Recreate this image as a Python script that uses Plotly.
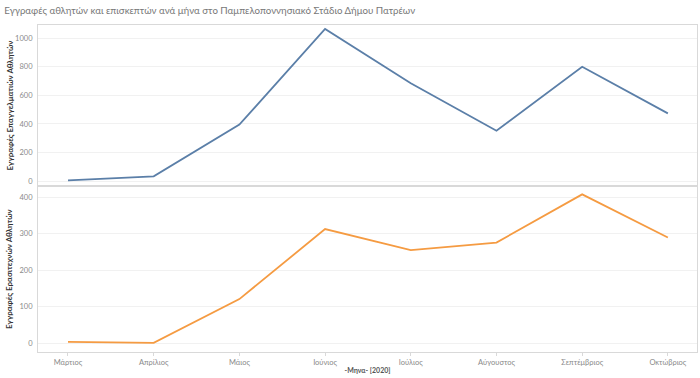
import plotly.graph_objects as go

months = ["Μάρτιος", "Απρίλιος", "Μάιος", "Ιούνιος", "Ιούλιος", "Αύγουστος", "Σεπτέμβριος", "Οκτώβριος"]
professional = [5, 33, 395, 1065, 685, 352, 800, 474]
amateur = [4, 1, 121, 313, 255, 276, 408, 290]

x_idx = list(range(len(months)))

fig = go.Figure()
fig.add_trace(go.Scatter(x=x_idx, y=professional, mode="lines",
                         line=dict(color="#5b7fa8", width=1.8), xaxis="x2", yaxis="y2",
                         hoverinfo="skip", showlegend=False))
fig.add_trace(go.Scatter(x=x_idx, y=amateur, mode="lines",
                         line=dict(color="#f59b42", width=1.8), xaxis="x", yaxis="y",
                         hoverinfo="skip", showlegend=False))

split = (352 - 186) / 327
fam = "Lato, Open Sans, sans-serif"
tickfont = dict(family=fam, size=7.5, color="#8a8a8a")
linec = "#d9d9d9"
gridc = "#f1f1f1"

fig.update_layout(
    width=700, height=378,
    margin=dict(l=38, r=3, t=25, b=26),
    paper_bgcolor="white", plot_bgcolor="white",
    title=dict(text="Εγγραφές αθλητών και επισκεπτών ανά μήνα στο Παμπελοποννησιακό Στάδιο Δήμου Πατρέων",
               x=0.006, xanchor="left", y=0.973, yanchor="middle",
               font=dict(family=fam, size=9.7, color="#777777")),
    xaxis=dict(domain=[0, 1], anchor="y", range=[-0.35, 7.34],
               tickmode="array", tickvals=x_idx, ticktext=months, tickfont=tickfont,
               showgrid=False, zeroline=False, showline=True, mirror=True, linecolor=linec,
               ticks="outside", ticklen=3, tickcolor=linec,
               title=dict(text="<b>-Μηνα- [2020]</b>", standoff=2,
                          font=dict(family=fam, size=7, color="#555555"))),
    xaxis2=dict(domain=[0, 1], anchor="y2", range=[-0.35, 7.34], matches="x",
                showticklabels=False, showgrid=False, zeroline=False,
                showline=True, mirror=True, linecolor=linec),
    yaxis=dict(domain=[0, split], anchor="x", range=[-24, 431],
               tickvals=[0, 100, 200, 300, 400], tickfont=tickfont,
               showgrid=True, gridcolor=gridc, zeroline=False,
               showline=True, mirror=True, linecolor=linec, ticks="", ticklabelstandoff=3),
    yaxis2=dict(domain=[split, 1], anchor="x2", range=[-35, 1093],
                tickvals=[0, 200, 400, 600, 800, 1000], tickfont=tickfont,
                showgrid=True, gridcolor=gridc, zeroline=False,
                showline=True, mirror=True, linecolor=linec, ticks="", ticklabelstandoff=3),
    annotations=[
        dict(text="<b>Εγγραφές Επαγγελματιών Αθλητών</b>", xref="paper", yref="paper",
             x=-0.044, y=(split + 1) / 2, textangle=-90, showarrow=False,
             xanchor="center", yanchor="middle",
             font=dict(family=fam, size=8, color="#333333")),
        dict(text="<b>Εγγραφές Ερασιτεχνών Αθλητών</b>", xref="paper", yref="paper",
             x=-0.044, y=split / 2, textangle=-90, showarrow=False,
             xanchor="center", yanchor="middle",
             font=dict(family=fam, size=8, color="#333333")),
    ],
)

fig.write_html("out.html", config={"displayModeBar": False},
               post_script="document.body.style.margin='0';")
